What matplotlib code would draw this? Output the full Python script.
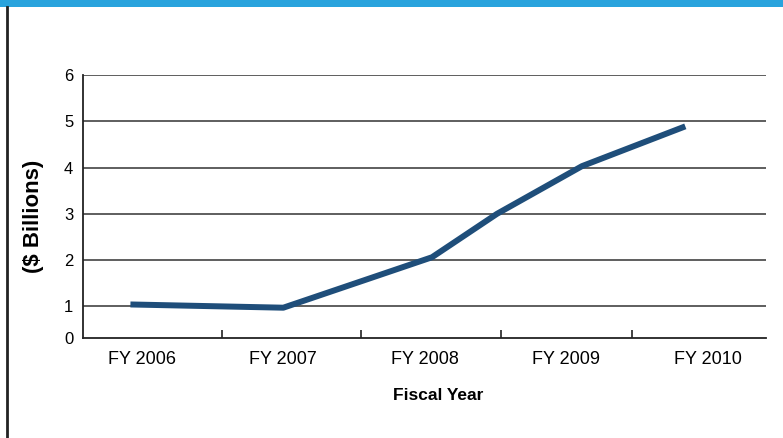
import numpy as np
import matplotlib.pyplot as plt
from matplotlib.lines import Line2D
from matplotlib.patches import Rectangle

plt.rcParams['font.family'] = ['Liberation Sans', 'DejaVu Sans']

# data (x in fiscal-year units)
years = [2006, 2007, 2008, 2009, 2010]
year_labels = ['FY 2006', 'FY 2007', 'FY 2008', 'FY 2009', 'FY 2010']
line_x = [2005.92, 2007.0, 2008.05, 2008.51, 2009.11, 2009.84]
line_y = [1.04, 0.97, 2.06, 3.0, 4.03, 4.89]
y_ticks = [1, 2, 3, 4, 5, 6]

fig = plt.figure(figsize=(7.83, 4.38), dpi=100)
fig.patch.set_facecolor('white')

# blue band on top and black rule on the left
fig.add_artist(Rectangle((0, 1 - 7 / 438), 1, 7 / 438, transform=fig.transFigure,
                         facecolor='#29a3dd', edgecolor='none'))
fig.add_artist(Line2D([6.5 / 783, 6.5 / 783], [0, 1 - 7 / 438], transform=fig.transFigure,
                      color='#222222', lw=2))

ax = fig.add_axes([83 / 783, 1 - 338 / 438, (766 - 83) / 783, (338 - 75) / 438])

y_bottom = 0.315  # the axis line carries the "0" label
ax.set_ylim(y_bottom, 6)
ax.set_xlim(2005.585, 2010.41)

for v in y_ticks:
    ax.axhline(v, color='#333333', lw=1.1, zorder=1)

ax.plot(line_x, line_y, color='#1f4e7a', lw=4.3, solid_capstyle='butt', zorder=3)

ax.set_yticks([y_bottom] + y_ticks)
ax.set_yticklabels(['0'] + [str(v) for v in y_ticks])
ax.tick_params(axis='y', length=0, pad=7, labelsize=12)

ax.set_xticks(years)
ax.set_xticklabels(year_labels)
ax.tick_params(axis='x', which='major', length=0, pad=9, labelsize=13)
ax.set_xticks([2006.57, 2007.55, 2008.54, 2009.46], minor=True)
ax.tick_params(axis='x', which='minor', direction='in', length=6, width=1.2, color='#222222')

for s in ['top', 'right']:
    ax.spines[s].set_visible(False)
for s in ['left', 'bottom']:
    ax.spines[s].set_color('#222222')
    ax.spines[s].set_linewidth(1.3)

fig.text(438 / 783, 1 - 395 / 438, 'Fiscal Year', fontsize=12.5, fontweight='bold',
         ha='center', va='center')
fig.text(33 / 783, 1 - 216 / 438, '($ Billions)', rotation=90, fontsize=16,
         fontweight='bold', ha='center', va='center')

fig.savefig('out.png', dpi=100)
